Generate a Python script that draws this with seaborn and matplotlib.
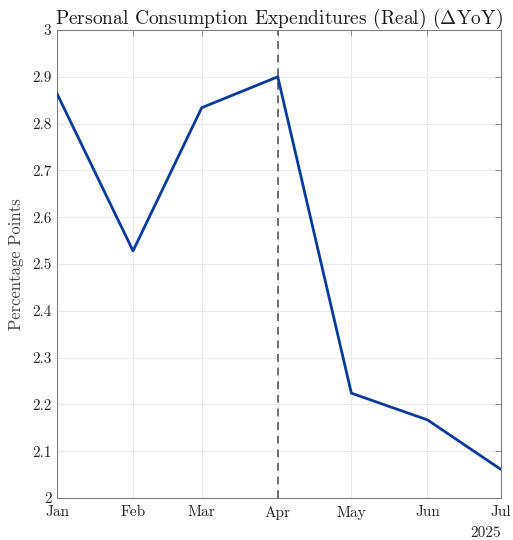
import matplotlib
matplotlib.use("Agg")
import matplotlib.pyplot as plt
import seaborn as sns
import pandas as pd

months = ["2025-01-01", "2025-02-01", "2025-03-01", "2025-04-01",
          "2025-05-01", "2025-06-01", "2025-07-01"]
month_labels = ["Jan", "Feb", "Mar", "Apr", "May", "Jun", "Jul"]
values = [2.864, 2.528, 2.834, 2.900, 2.224, 2.167, 2.061]
y_ticks = [2.0, 2.1, 2.2, 2.3, 2.4, 2.5, 2.6, 2.7, 2.8, 2.9, 3.0]
y_tick_labels = ["2", "2.1", "2.2", "2.3", "2.4", "2.5", "2.6", "2.7", "2.8", "2.9", "3"]
marker_date = "2025-04-01"
title = r"Personal Consumption Expenditures (Real) ($\Delta$YoY)"
ylabel = "Percentage Points"
year_label = "2025"

sns.set_theme(style="white")
plt.rcParams["font.family"] = ["cmr10", "DejaVu Serif"]
plt.rcParams["mathtext.fontset"] = "cm"
plt.rcParams["axes.formatter.use_mathtext"] = True

df = pd.DataFrame({"date": pd.to_datetime(months), "value": values})

fig = plt.figure(figsize=(5.13, 5.40), dpi=100)
ax = fig.add_axes([57/513, 1-498/540, (501-57)/513, (498-30)/540])

ax.grid(True, color="#ebebeb", linewidth=0.8)
ax.set_axisbelow(True)
sns.lineplot(data=df, x="date", y="value", ax=ax, color="#0b3a9e", linewidth=2.0, zorder=3)
ax.axvline(pd.Timestamp(marker_date), color="#6e6e6e", linestyle=(0, (4, 3)), linewidth=1.4, zorder=2)

ax.set_xlim(pd.Timestamp(months[0]), pd.Timestamp(months[-1]))
ax.set_ylim(2, 3)
ax.set_xticks(pd.to_datetime(months))
ax.set_xticklabels(month_labels)
ax.set_yticks(y_ticks)
ax.set_yticklabels(y_tick_labels)
ax.tick_params(axis="both", direction="in", length=4, width=0.6, color="#808080",
               labelsize=11, labelcolor="#262626", top=True, right=True)
ax.tick_params(axis="y", pad=4)
ax.tick_params(axis="x", pad=5.5)
for s in ax.spines.values():
    s.set_color("#808080")
    s.set_linewidth(0.8)
ax.set_xlabel("")
ax.set_ylabel(ylabel, fontsize=12, color="#404040", labelpad=6)
ax.set_title(title, fontsize=14, color="#1a1a1a", pad=4.5)
ax.text(1.0, -0.076, year_label, transform=ax.transAxes, ha="right", va="center",
        fontsize=11, color="#262626")

fig.savefig("out.png", dpi=100)
